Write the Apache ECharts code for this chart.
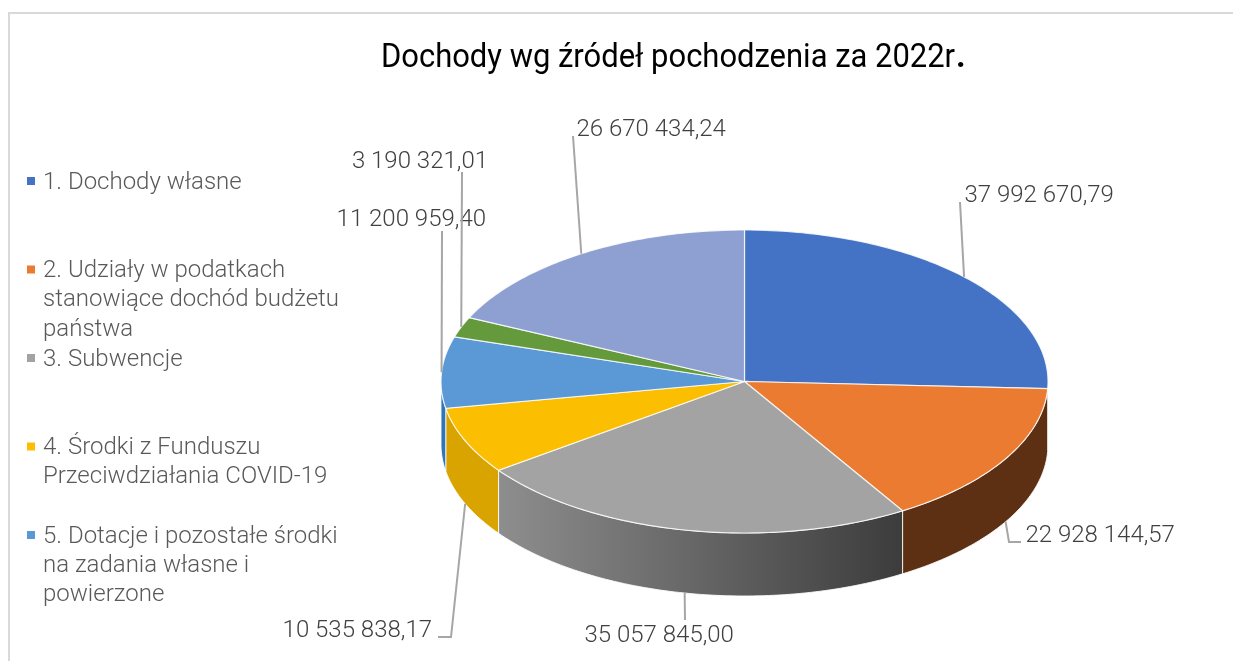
<!DOCTYPE html>
<html>
<head>
<meta charset="utf-8">
<style>html,body{margin:0;padding:0;background:#fff}#c{width:1233px;height:661px}</style>
<script src="https://cdn.jsdelivr.net/npm/echarts@6/dist/echarts.min.js"></script>
</head>
<body>
<div id="c"></div>
<script>
const titleText = 'Dochody wg źródeł pochodzenia za 2022r';
const titleEnd = '.';
const categories = [
  '1. Dochody własne',
  '2. Udziały w podatkach stanowiące dochód budżetu państwa',
  '3. Subwencje',
  '4. Środki z Funduszu Przeciwdziałania COVID-19',
  '5. Dotacje i pozostałe środki na zadania własne i powierzone',
  '6. Pozostałe',
  '7. Pozostałe'
];
const values = [37992670.79, 22928144.57, 35057845.00, 10535838.17, 11200959.40, 3190321.01, 26670434.24];
const legendLines = [
  ['1. Dochody własne'],
  ['2. Udziały w podatkach', 'stanowiące dochód budżetu', 'państwa'],
  ['3. Subwencje'],
  ['4. Środki z Funduszu', 'Przeciwdziałania COVID-19'],
  ['5. Dotacje i pozostałe środki', 'na zadania własne i', 'powierzone']
];

// styling
const topColors = ['#4472C4', '#EB7B30', '#A3A3A3', '#FBBE00', '#5A98D6', '#64993C', '#8E9FD2'];
const sideColors = ['#2A4A80', '#5E3013', null, '#D9A300', '#2F76B5', '#3F6326', '#5A6A96'];
const pie = {cx: 744.5, cy: 381.5, rx: 303.5, ry: 151.5, depth: 63};
// label placement: [text x, text y, align], leader route after the slice anchor
const labelPos = [
  [964.5, 196, 'left'], [1025.5, 536, 'left'], [584.5, 636, 'left'], [432, 631, 'right'],
  [486, 220, 'right'], [488, 162, 'right'], [576.5, 130, 'left']
];
const leaderRoute = [
  [[960, 202]], [[1009, 542], [1021, 542]], [[685, 620]], [[451, 637], [438, 637]],
  [[442, 231]], [[462, 172]], [[573, 136]]
];
const frontAnchor = [false, true, true, true, false, false, false];

const total = values.reduce((a, b) => a + b, 0);
const starts = [];
values.reduce((acc, v, i) => { starts[i] = acc; return acc + v; }, 0);

const pt = (deg, dy) => {
  const t = deg * Math.PI / 180;
  return [pie.cx + pie.rx * Math.sin(t), pie.cy - pie.ry * Math.cos(t) + (dy || 0)];
};
const arc = (a0, a1, dy) => {
  const n = Math.max(2, Math.ceil((a1 - a0) / 1)), out = [];
  for (let i = 0; i <= n; i++) out.push(pt(a0 + (a1 - a0) * i / n, dy));
  return out;
};
const fmt = v => {
  const [a, b] = v.toFixed(2).split('.');
  return a.replace(/\B(?=(\d{3})+(?!\d))/g, ' ') + ',' + b;
};

function renderSlice(params, api) {
  const i = params.dataIndex;
  const v = api.value(0);
  const a0 = starts[i] / total * 360, a1 = (starts[i] + v) / total * 360;
  const children = [];
  const s0 = Math.max(a0, 90), s1 = Math.min(a1, 270);
  if (s1 > s0) {
    const fill = sideColors[i] || new echarts.graphic.LinearGradient(0, 0, 1, 0, [
      {offset: 0, color: '#8E8E8E'}, {offset: 1, color: '#3C3C3C'}
    ]);
    children.push({
      type: 'polygon',
      shape: {points: arc(s0, s1, 0).concat(arc(s0, s1, pie.depth).reverse())},
      style: {fill: fill, stroke: 'rgba(255,255,255,0.85)', lineWidth: 1}
    });
  }
  children.push({
    type: 'polygon',
    shape: {points: [[pie.cx, pie.cy]].concat(arc(a0, a1, 0))},
    style: {fill: topColors[i], stroke: 'rgba(255,255,255,0.8)', lineWidth: 1.2}
  });
  const anchor = pt((a0 + a1) / 2, frontAnchor[i] ? pie.depth : 0);
  children.push({
    type: 'polyline',
    shape: {points: [anchor].concat(leaderRoute[i])},
    style: {fill: 'none', stroke: '#A6A6A6', lineWidth: 2}
  });
  const p = labelPos[i];
  children.push({
    type: 'text',
    style: {
      x: p[0], y: p[1], text: fmt(v), align: p[2], verticalAlign: 'middle',
      font: '300 24px Roboto', fill: '#404040'
    }
  });
  return {type: 'group', children: children};
}

const legendGraphics = [];
legendLines.forEach((lines, i) => {
  const y = 181 + i * 88.5;
  legendGraphics.push({
    type: 'rect', shape: {x: 27, y: y - 4, width: 8, height: 8},
    style: {fill: topColors[i]}
  });
  lines.forEach((line, k) => legendGraphics.push({
    type: 'text',
    style: {x: 43, y: y + 1.5 + k * 29.3, text: line, align: 'left', verticalAlign: 'middle',
      font: '300 24px Roboto', fill: '#595959'}
  }));
});

const chart = echarts.init(document.getElementById('c'), null, {renderer: 'canvas'});
chart.setOption({
  animation: false,
  backgroundColor: '#fff',
  graphic: [{
    type: 'rect', silent: true, z: -1,
    shape: {x: 9, y: 13, width: 1400, height: 900},
    style: {fill: '#fff', stroke: '#D9D9D9', lineWidth: 2}
  }, {
    type: 'text', x: 381, y: 59, scaleX: 0.938,
    style: {x: 0, y: 0, text: titleText, align: 'left', verticalAlign: 'middle',
      font: '400 33px Roboto', fill: '#000'}
  }, {
    type: 'text', x: 956, y: 59,
    style: {x: 0, y: 0, text: titleEnd, align: 'left', verticalAlign: 'middle',
      font: '700 33px Roboto', fill: '#000'}
  }].concat(legendGraphics),
  series: [{
    type: 'custom',
    coordinateSystem: 'none',
    renderItem: renderSlice,
    data: values.map((v, i) => ({name: categories[i], value: [v]})),
    silent: true
  }]
});
</script>
</body>
</html>
